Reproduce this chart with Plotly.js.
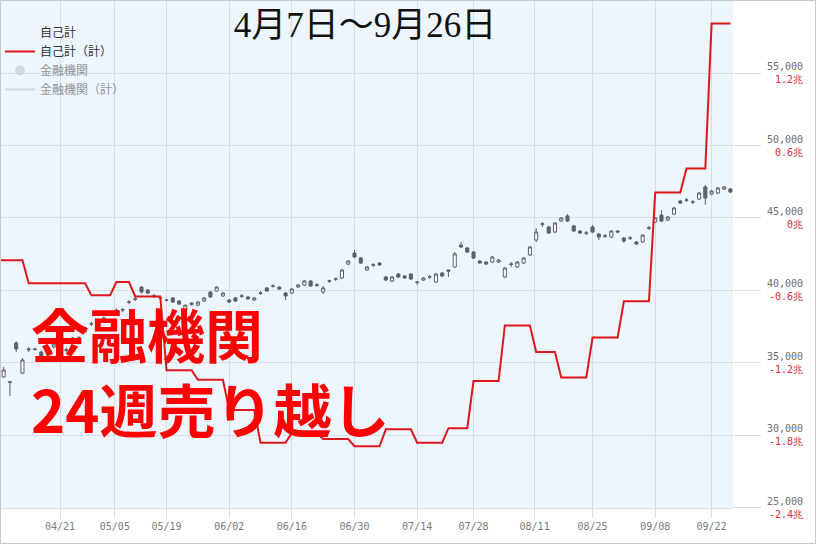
<!DOCTYPE html>
<html><head><meta charset="utf-8">
<script src="https://cdn.plot.ly/plotly-3.0.1.min.js"></script>
<style>html,body{margin:0;padding:0;background:#fff}#chart{width:816px;height:544px}</style>
</head><body><div id="chart"></div>
<script>
// ---- daily candles (price scale) ----
const dates = [
'2025-04-07','2025-04-08','2025-04-09','2025-04-10','2025-04-11',
'2025-04-14','2025-04-15','2025-04-16','2025-04-17','2025-04-18',
'2025-04-21','2025-04-22','2025-04-23','2025-04-24','2025-04-25',
'2025-04-28','2025-04-30','2025-05-01','2025-05-02',
'2025-05-07','2025-05-08','2025-05-09',
'2025-05-12','2025-05-13','2025-05-14','2025-05-15','2025-05-16',
'2025-05-19','2025-05-20','2025-05-21','2025-05-22','2025-05-23',
'2025-05-26','2025-05-27','2025-05-28','2025-05-29','2025-05-30',
'2025-06-02','2025-06-03','2025-06-04','2025-06-05','2025-06-06',
'2025-06-09','2025-06-10','2025-06-11','2025-06-12','2025-06-13',
'2025-06-16','2025-06-17','2025-06-18','2025-06-19','2025-06-20',
'2025-06-23','2025-06-24','2025-06-25','2025-06-26','2025-06-27',
'2025-06-30','2025-07-01','2025-07-02','2025-07-03','2025-07-04',
'2025-07-07','2025-07-08','2025-07-09','2025-07-10','2025-07-11',
'2025-07-14','2025-07-15','2025-07-16','2025-07-17','2025-07-18',
'2025-07-22','2025-07-23','2025-07-24','2025-07-25',
'2025-07-28','2025-07-29','2025-07-30','2025-07-31','2025-08-01',
'2025-08-04','2025-08-05','2025-08-06','2025-08-07','2025-08-08',
'2025-08-12','2025-08-13','2025-08-14','2025-08-15',
'2025-08-18','2025-08-19','2025-08-20','2025-08-21','2025-08-22',
'2025-08-25','2025-08-26','2025-08-27','2025-08-28','2025-08-29',
'2025-09-01','2025-09-02','2025-09-03','2025-09-04','2025-09-05',
'2025-09-08','2025-09-09','2025-09-10','2025-09-11','2025-09-12',
'2025-09-16','2025-09-17','2025-09-18','2025-09-19',
'2025-09-22','2025-09-24','2025-09-25','2025-09-26','2025-09-29'];

const open = [34300,34030,33700,36370,34300, 35900,35960,35750,35850,36100,
35950,35850,36720,36750,37130, 37680,37700,37820,38370, 38440,38650,39180,
39370,40230,40030,39600,39480, 39340,39480,39270,38650,39020,
38990,39270,39890,39960,39620, 39340,39480,39600,39550,39340,
39800,40170,40290,40230,39820, 39820,40240,40370,40650,40350,
39890,40630,40770,40860,41820, 42580,42240,41410,41740,41890,
40930,40650,41130,41000,41130, 40580,40720,40920,40580,41200,
41410,41620,43130,42930, 42650,42030,41960,41960,41960,
40930,41780,41620,41890,42450, 43480,44560,44380,44030,
44790,45140,44450,44100,43940, 44380,43890,43740,43690,44100,
43620,43600,43340,43340,44290, 44720,45200,44860,45270,46170,
46220,46090,46310,47140, 46650,46720,47000,47000,46790];
const high = [34500,34720,33750,36510,35340, 36100,36050,35850,36000,36400,
36100,36050,36800,36850,37500, 37850,38050,38200,38600, 38750,38800,39350,
39550,40300,40100,39750,39620, 39420,39550,39330,39050,39200,
39280,39560,39960,40300,39900, 39420,39550,39750,39620,39550,
39950,40230,40420,40300,39900, 40170,40450,40720,40720,40500,
40310,40750,40900,41480,42100, 42790,42310,41690,41890,41960,
41000,41000,41200,41070,41200, 40650,40930,41070,41200,41270,
41450,42650,43340,43000, 42720,42100,42030,42380,42170,
41620,41960,42030,42310,43070, 44310,44720,44450,44720,
45070,45270,44520,44170,44100, 44520,43960,43890,44170,44170,
43690,43760,43410,43890,44450, 45070,45550,45140,45760,46240,
46380,46240,46790,47280, 46930,47140,47210,47070,46860];
const low = [32800,33960,32720,35750,34230, 35750,35850,35300,35750,36000,
35800,35700,36350,36500,37050, 37550,37650,37750,38300, 38350,38500,39050,
39250,39800,39750,39480,39380, 39250,39150,39000,38600,38950,
38900,39200,39480,39900,39550, 39130,39200,39500,39350,39300,
39700,39900,40200,40030,39340, 39750,40170,40300,40250,40250,
39750,40520,40650,40790,41750, 42240,41820,41340,41620,41690,
40650,40580,40860,40790,40720, 40370,40650,40790,40510,40930,
40930,41550,42930,42590, 42170,41820,41760,41890,41890,
40860,41620,41550,41820,42380, 43340,44380,43900,43960,
44720,44720,44030,43890,43820, 43970,43480,43620,43620,43960,
43270,43480,43140,43270,44170, 44650,44720,44790,45200,45960,
46100,45960,46240,45900, 46580,46650,46930,46720,46580];
const close = [33000,34510,33660,35960,35200, 35950,35930,35400,35900,36300,
35900,35900,36440,36650,37400, 37700,37950,38100,38510, 38650,38680,39200,
39420,39890,39820,39620,39500, 39320,39200,39060,38980,39140,
39200,39480,39550,40230,39820, 39200,39270,39620,39420,39480,
39830,39960,40310,40100,39620, 40100,40370,40650,40310,40380,
40170,40660,40800,41410,42030, 42310,41890,41620,41770,41760,
40720,40930,40930,40860,40790, 40560,40860,40940,41130,41000,
41340,42520,43000,42650, 42240,41890,41820,42310,42100,
41550,41820,41960,42240,43000, 44030,44600,43960,44650,
45000,44790,44100,43960,43970, 44030,43690,43770,44100,44030,
43410,43630,43200,43820,44320, 45000,44790,45070,45690,46030,
46250,46110,46720,46380, 46860,47070,47140,46790,46650];

// ---- weekly cumulative (trillion yen) ----
const weekStart = ['2025-04-07','2025-04-14','2025-04-21','2025-04-28','2025-05-07','2025-05-12','2025-05-19','2025-05-26','2025-06-02','2025-06-09','2025-06-16','2025-06-23','2025-06-30','2025-07-07','2025-07-14','2025-07-22','2025-07-28','2025-08-04','2025-08-12','2025-08-18','2025-08-25','2025-09-01','2025-09-08','2025-09-16','2025-09-22'];
const weekEnd = ['2025-04-11','2025-04-18','2025-04-25','2025-05-02','2025-05-09','2025-05-16','2025-05-23','2025-05-30','2025-06-06','2025-06-13','2025-06-20','2025-06-27','2025-07-04','2025-07-11','2025-07-18','2025-07-25','2025-08-01','2025-08-08','2025-08-15','2025-08-22','2025-08-29','2025-09-05','2025-09-12','2025-09-19','2025-09-26'];
const cumTrillion = [-0.35,-0.54,-0.54,-0.64,-0.53,-0.65,-1.26,-1.34,-1.59,-1.86,-1.78,-1.83,-1.89,-1.75,-1.86,-1.74,-1.35,-0.89,-1.11,-1.32,-0.99,-0.69,0.21,0.41,1.61];

const holidays = ['2025-04-29','2025-05-05','2025-05-06','2025-07-21','2025-08-11','2025-09-15','2025-09-23'];
// holiday-week ticks sit at the gap left by the closed days
const xTickVals = ['2025-04-21','2025-05-02 18:00','2025-05-19','2025-06-02','2025-06-16','2025-06-30','2025-07-14','2025-07-28','2025-08-08 18:00','2025-08-25','2025-09-08','2025-09-22'];
const xTickText = ['04/21','05/05','05/19','06/02','06/16','06/30','07/14','07/28','08/11','08/25','09/08','09/22'];
const priceTicks = [25000,30000,35000,40000,45000,50000,55000];
const priceTickText = ['25,000','30,000','35,000','40,000','45,000','50,000','55,000'];
const trillionTickText = ['-2.4兆','-1.8兆','-1.2兆','-0.6兆','0兆','0.6兆','1.2兆'];
const overlayLines = ['金融機関','24週売り越し'];

// ---- layout geometry ----
const W = 816, H = 544, PL = 0, PR = 733, PT = 0, PB = 508;
const plotW = PR - PL, plotH = PB - PT;
const yRange = [24990, 60040];
// trillion axis aligned so that 0兆 = 45,000 and 0.6兆 = 5,000
const toTr = v => (v - 45000) / 5000 * 0.6;
const y2Range = [toTr(yRange[0]), toTr(yRange[1])];

const lineX = [], lineY = [];
for (let i = 0; i < cumTrillion.length; i++) {
  lineX.push(weekStart[i], weekEnd[i]);
  lineY.push(cumTrillion[i], cumTrillion[i]);
}

const candleCol = '#5c6169';
const gridCol = '#d6dee6';
const traces = [
  {type:'candlestick', x:dates, open:open, high:high, low:low, close:close,
   increasing:{line:{color:candleCol,width:1}, fillcolor:'#ffffff'},
   decreasing:{line:{color:candleCol,width:1}, fillcolor:candleCol},
   showlegend:false, hoverinfo:'skip'},
  {type:'scatter', mode:'markers', x:[dates[0]], y:[null], name:'自己計',
   marker:{color:'rgba(0,0,0,0)', size:1, line:{width:0}}},
  {type:'scatter', mode:'lines', x:lineX, y:lineY, yaxis:'y2', name:'自己計（計）',
   line:{color:'#e0161d', width:2}},
  {type:'scatter', mode:'markers', x:[dates[0]], y:[null], name:'金融機関', visible:'legendonly',
   marker:{color:'#b9bec4', size:10, symbol:'circle'}},
  {type:'scatter', mode:'lines', x:[dates[0]], y:[null], yaxis:'y2', name:'金融機関（計）', visible:'legendonly',
   line:{color:'#b9bec4', width:2}}
];

const annotations = [];
for (let i = 0; i < priceTicks.length; i++) {
  annotations.push({xref:'paper', yref:'y', x:805/plotW, y:priceTicks[i], xanchor:'right', yanchor:'middle',
    align:'right', showarrow:false,
    text: priceTickText[i] + '<br><span style="color:#e8283a">' + trillionTickText[i] + '</span>',
    font:{family:'DejaVu Sans Mono, monospace', size:10, color:'#6b7075'}});
}
annotations.push({xref:'paper', yref:'paper', x:29/plotW, y:1-370/plotH, xanchor:'left', yanchor:'middle',
  align:'left', showarrow:false, text:overlayLines.join('<br>'),
  font:{family:'Noto Sans CJK JP, sans-serif', size:58, color:'#ff0000', weight:'bold'}});

const layout = {
  width:W, height:H,
  margin:{l:PL, r:W-PR, t:PT, b:H-PB, pad:0},
  paper_bgcolor:'#ffffff', plot_bgcolor:'#edf6fc',
  title:{text:'4月7日～9月26日', xref:'paper', x:365/plotW, xanchor:'center',
         yref:'container', y:1-25/H, yanchor:'middle',
         font:{family:'"Liberation Serif", "DejaVu Serif", "Noto Sans CJK JP", serif', size:35, color:'#111111'}},
  showlegend:true,
  legend:{x:0, xanchor:'left', y:1-18/plotH, yanchor:'top', bgcolor:'rgba(0,0,0,0)',
          font:{family:'Noto Sans CJK JP, sans-serif', size:12, color:'#333333'}, tracegroupgap:0},
  xaxis:{type:'date', range:['2025-04-07 10:00','2025-09-26 10:00'],
         rangebreaks:[{bounds:['sat','mon']},{values:holidays}],
         rangeslider:{visible:false},
         tickmode:'array', tickvals:xTickVals, ticktext:xTickText,
         ticks:'outside', ticklen:9, tickcolor:gridCol, tickwidth:1,
         showgrid:true, gridcolor:gridCol, gridwidth:1,
         showline:true, linecolor:gridCol, linewidth:1,
         tickfont:{family:'DejaVu Sans Mono, monospace', size:10, color:'#777b80'},
         fixedrange:true},
  yaxis:{range:yRange, side:'right', tickmode:'array', tickvals:priceTicks,
         showticklabels:false, ticks:'outside', ticklen:27, tickcolor:gridCol, tickwidth:1,
         showgrid:true, gridcolor:gridCol, gridwidth:1, zeroline:false, showline:false, fixedrange:true},
  yaxis2:{range:y2Range, overlaying:'y', side:'right', showgrid:false, showticklabels:false,
          ticks:'', zeroline:false, showline:false, fixedrange:true},
  annotations:annotations,
  shapes:[{type:'rect', xref:'paper', yref:'paper', x0:0.5/plotW, x1:(W-0.5)/plotW,
           y0:1-(H-0.5)/plotH, y1:1-0.5/plotH, line:{color:'#c5cacf', width:1}, layer:'above'}]
};

Plotly.newPlot('chart', traces, layout, {displayModeBar:false, staticPlot:true});
</script></body></html>
